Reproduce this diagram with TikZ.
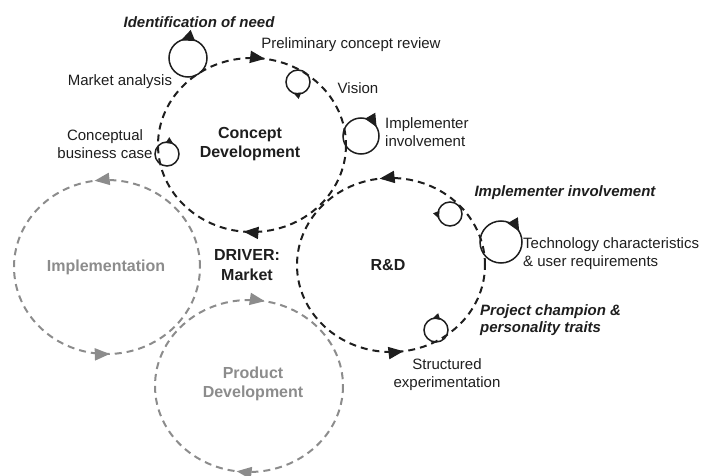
\documentclass[tikz,border=0pt]{standalone}
\usepackage{fontspec}
\setmainfont{Liberation Sans}
\usetikzlibrary{arrows.meta,decorations.markings}
\definecolor{ink}{HTML}{1E1E1E}
\definecolor{greyc}{HTML}{8C8C8C}
\begin{document}
\begin{tikzpicture}[x=1pt,y=-1pt,
  bigblack/.style={draw=ink,line width=2pt,dash pattern=on 7pt off 5pt},
  biggrey/.style={draw=greyc,line width=2pt,dash pattern=on 7pt off 5pt},
  loopline/.style={draw=ink,line width=1.5pt},
  twomarks/.style 2 args={postaction={decorate},decoration={markings,
     mark=at position #1 with {\arrow[fill=.]{Triangle[length=15pt,width=12pt]}},
     mark=at position #2 with {\arrow[fill=.]{Triangle[length=15pt,width=12pt]}}}},
  lbl/.style={font=\fontsize{15}{18}\selectfont,text=ink,inner sep=0pt},
  lblit/.style={font=\fontsize{15}{17}\selectfont\bfseries\itshape,text=ink,inner sep=0pt},
  lblbold/.style={font=\fontsize{16}{19.5}\selectfont\bfseries,text=ink,inner sep=0pt,align=center},
  lblgrey/.style={font=\fontsize{16}{19.5}\selectfont\bfseries,text=greyc,inner sep=0pt,align=center},
]
\useasboundingbox (0,0) rectangle (705,476);
% centres
\coordinate (cimp) at (107,267);
\coordinate (cpd) at (249,386);
\coordinate (ccd) at (252,145);
\coordinate (crd) at (391,265);
% grey cycles
\draw[biggrey,twomarks={0.272}{0.755}] (cimp) ++(93,0) arc[start angle=360,end angle=0,x radius=93,y radius=87];
\draw[biggrey,twomarks={0.272}{0.778}] (cpd) ++(94,0) arc[start angle=0,end angle=360,x radius=94,y radius=86];
% black cycles
\draw[bigblack,twomarks={0.265}{0.773}] (ccd) ++(94,0) arc[start angle=0,end angle=360,x radius=94,y radius=87];
\draw[bigblack,twomarks={0.27}{0.772}] (crd) ++(94,0) arc[start angle=360,end angle=0,x radius=94,y radius=87];
% small loops on concept development
\coordinate (lid) at (188,58);
\draw[loopline] (lid) circle[radius=19];
\fill[ink,shift={(lid)},rotate=-248] (19,0) -- (13,13) -- (25,13) -- cycle;
\coordinate (lvis) at (298,82);
\draw[loopline] (lvis) circle[radius=12];
\fill[ink,shift={(lvis)},rotate=-112] (12,0) -- (8.5,-7) -- (15.5,-7) -- cycle;
\coordinate (limp) at (361,136);
\draw[loopline] (limp) circle[radius=18];
\fill[ink,shift={(limp)},rotate=-330] (18,0) -- (12,-13) -- (24,-13) -- cycle;
\coordinate (lcbc) at (167,154);
\draw[loopline] (lcbc) circle[radius=12];
\fill[ink,shift={(lcbc)},rotate=-302] (12,0) -- (8.5,-7) -- (15.5,-7) -- cycle;
% small loops on R&D
\coordinate (lrs) at (450,214);
\draw[loopline] (lrs) circle[radius=12];
\fill[ink,shift={(lrs)},rotate=-158] (12,0) -- (8.5,7) -- (15.5,7) -- cycle;
\coordinate (ltech) at (501,242);
\draw[loopline] (ltech) circle[radius=21];
\fill[ink,shift={(ltech)},rotate=-330] (21,0) -- (15,-13) -- (27,-13) -- cycle;
\coordinate (lpc) at (436,330);
\draw[loopline] (lpc) circle[radius=12];
\fill[ink,shift={(lpc)},rotate=-253] (12,0) -- (8.5,7) -- (15.5,7) -- cycle;
% labels
\node[lblit] (tid) at (199,22) {Identification of need};
\node[lbl] (tprel) at (351,45) {Preliminary concept review};
\node[lbl] (tmkt) at (120,82) {Market analysis};
\node[lbl] (tvis) at (358,88) {Vision};
\node[lbl,anchor=west,align=left] (timp) at (385,132) {Implementer\\involvement};
\node[lbl,align=center] (tcbc) at (105,144) {Conceptual\\business case};
\node[lblit] (trdimp) at (565,193) {Implementer involvement};
\node[lbl,anchor=west,align=left] (ttech) at (523,254) {Technology characteristics\\\& user requirements};
\node[lblit,anchor=west,align=left] (tpc) at (480,320) {Project champion \&\\personality traits};
\node[lbl,align=center] (tse) at (447,375) {Structured\\experimentation};
\node[lblbold] (tcd) at (250,144) {Concept\\Development};
\node[lblbold] (trd) at (388,265) {R\&D};
\node[lblbold] (tdrv) at (247,265) {DRIVER:\\Market};
\node[lblgrey] (timpl) at (106,267) {Implementation};
\node[lblgrey] (tpd) at (253,384) {Product\\Development};
\end{tikzpicture}
\end{document}
